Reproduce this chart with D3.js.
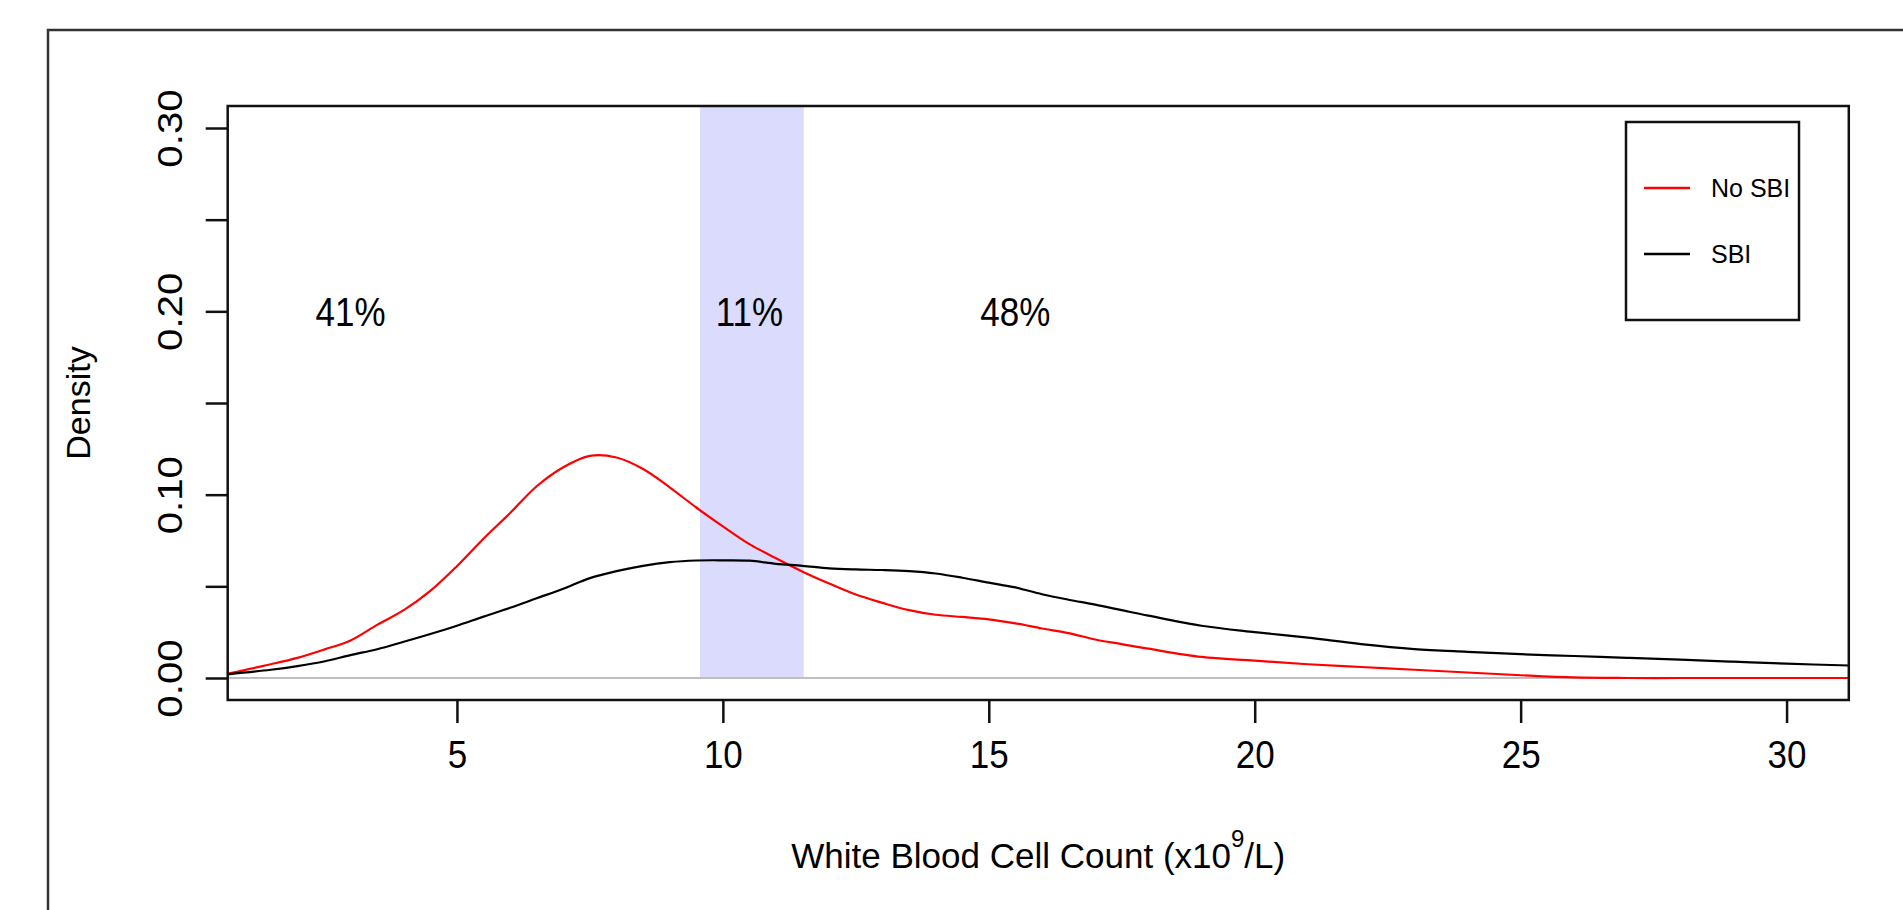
<!DOCTYPE html>
<html>
<head>
<meta charset="utf-8">
<script src="https://cdn.jsdelivr.net/npm/d3@7"></script>
<style>
  body { margin: 0; background: #fff; }
  svg { display: block; }
  text { font-family: "Liberation Sans", Arial, sans-serif; fill: #000; }
</style>
</head>
<body>
<svg id="chart" width="1903" height="910"></svg>
<script>
// white blood cell count grid (x10^9/L) and the two density curves
var wbcGrid = [0.69, 1.5, 2, 2.5, 3, 3.5, 4, 4.5, 5, 5.5, 6, 6.5, 7, 7.5, 8, 8.5, 9, 9.5, 10, 10.5,
  11, 11.5, 12, 12.5, 13, 13.5, 14, 14.5, 15, 15.5, 16, 16.5, 17, 17.5, 18, 19, 20, 21, 22, 23,
  24, 25, 26, 27, 28, 29, 30, 31.2];
var noSbiDensity = [0.0024, 0.0075, 0.011, 0.0155, 0.0205, 0.029, 0.037, 0.0475, 0.061, 0.076,
  0.090, 0.1046, 0.115, 0.1212, 0.1203, 0.114, 0.104, 0.093, 0.0827, 0.073,
  0.0653, 0.058, 0.0515, 0.0455, 0.041, 0.037, 0.0345, 0.0333, 0.032, 0.0298, 0.027, 0.0245, 0.021, 0.0185, 0.016, 0.0115, 0.0095, 0.0075, 0.006, 0.0045,
  0.003, 0.0015, 0.0003, 0, 0, 0, 0, 0];
var sbiDensity = [0.002, 0.0045, 0.0065, 0.009, 0.0125, 0.0157, 0.0198, 0.024, 0.0285, 0.0335,
  0.0383, 0.0435, 0.0487, 0.0545, 0.0583, 0.0612, 0.0632, 0.0641, 0.0642, 0.064,
  0.0623, 0.0612, 0.0598, 0.0592, 0.0589, 0.0583, 0.057, 0.0547, 0.052, 0.0494, 0.0457, 0.0427, 0.040, 0.037, 0.034, 0.0285, 0.025, 0.022, 0.0185, 0.0158,
  0.0143, 0.013, 0.012, 0.011, 0.010, 0.0089, 0.0078, 0.0068];

var seriesNames = ["No SBI", "SBI"];
var seriesColors = ["#ff0000", "#000000"];

// shaded band and percentage labels
var bandRange = [9.57, 11.52];
var pctLabels = ["41%", "11%", "48%"];
var pctX = [3, 10.5, 15.5];
var pctY = 0.2;

var xTicks = [5, 10, 15, 20, 25, 30];
var yTicks = [0, 0.05, 0.10, 0.15, 0.20, 0.25, 0.30];
var yLabelled = [0, 0.10, 0.20, 0.30];

var svg = d3.select("#chart");
var pLeft = 227.7, pRight = 1848.8, pTop = 106, pBottom = 700;

var x = d3.scaleLinear().domain([0.69, 31.17]).range([pLeft, pRight]);
var y = d3.scaleLinear().domain([-0.012, 0.312]).range([pBottom, pTop]);

// outer frame (runs off the right and bottom of the picture)
svg.append("rect")
  .attr("x", 48).attr("y", 30).attr("width", 2000).attr("height", 1000)
  .attr("fill", "none").attr("stroke", "#333").attr("stroke-width", 2.5);

svg.append("clipPath").attr("id", "plotclip")
  .append("rect").attr("x", pLeft).attr("y", pTop)
  .attr("width", pRight - pLeft).attr("height", pBottom - pTop);

var plot = svg.append("g").attr("clip-path", "url(#plotclip)");

plot.append("rect")
  .attr("x", x(bandRange[0])).attr("width", x(bandRange[1]) - x(bandRange[0]))
  .attr("y", y(0.312)).attr("height", y(0) - y(0.312))
  .attr("fill", "#dbdbfe");

plot.append("line")
  .attr("x1", pLeft).attr("x2", pRight).attr("y1", y(0)).attr("y2", y(0))
  .attr("stroke", "#bebebe").attr("stroke-width", 2);

var line = d3.line()
  .x(function (d) { return x(d[0]); })
  .y(function (d) { return y(Math.max(0, d[1])); })
  .curve(d3.curveCatmullRom.alpha(0.5));

[noSbiDensity, sbiDensity].forEach(function (vals, i) {
  var pts = wbcGrid.map(function (g, j) { return [g, vals[j]]; });
  plot.append("path").datum(pts)
    .attr("d", line)
    .attr("fill", "none")
    .attr("stroke", seriesColors[i])
    .attr("stroke-width", 2.2);
});

// percentage text, a bit taller than wide like the original
pctLabels.forEach(function (t, i) {
  svg.append("text")
    .attr("transform", "translate(" + x(pctX[i]) + "," + y(pctY) + ") scale(1,1.15)")
    .attr("text-anchor", "middle")
    .attr("dy", "0.36em")
    .style("font-size", "35px")
    .text(t);
});

// plot box
svg.append("rect")
  .attr("x", pLeft).attr("y", pTop).attr("width", pRight - pLeft).attr("height", pBottom - pTop)
  .attr("fill", "none").attr("stroke", "#111").attr("stroke-width", 2.5);

// axes
var xAxis = svg.append("g")
  .attr("transform", "translate(0," + pBottom + ")")
  .call(d3.axisBottom(x).tickValues(xTicks).tickSize(23).tickPadding(14).tickFormat(d3.format("d")));
xAxis.select(".domain").remove();
xAxis.selectAll("line").attr("stroke", "#111").attr("stroke-width", 2.5);
xAxis.selectAll("text")
  .attr("transform", "scale(1,1.1)")
  .style("font-size", "35px").attr("fill", "#000")
  .style("font-family", "'Liberation Sans', Arial, sans-serif");

var yAxis = svg.append("g")
  .attr("transform", "translate(" + pLeft + ",0)")
  .call(d3.axisLeft(y).tickValues(yTicks).tickSize(22)
    .tickFormat(function (d) {
      return yLabelled.some(function (v) { return Math.abs(v - d) < 1e-9; }) ? d3.format(".2f")(d) : "";
    }));
yAxis.select(".domain").remove();
yAxis.selectAll("line").attr("stroke", "#111").attr("stroke-width", 2.5);
yAxis.selectAll("text")
  .attr("transform", "rotate(-90) scale(1.15,1)")
  .attr("x", 0).attr("y", -46).attr("dy", 0)
  .attr("text-anchor", "middle")
  .style("font-size", "35px").attr("fill", "#000")
  .style("font-family", "'Liberation Sans', Arial, sans-serif");

// axis titles
var xTitle = svg.append("text")
  .attr("x", (pLeft + pRight) / 2).attr("y", 868)
  .attr("text-anchor", "middle")
  .style("font-size", "35px");
xTitle.append("tspan").text("White Blood Cell Count (x10");
xTitle.append("tspan").attr("dy", -21).style("font-size", "24px").text("9");
xTitle.append("tspan").attr("dy", 21).text("/L)");

svg.append("text")
  .attr("transform", "translate(90," + (pTop + pBottom) / 2 + ") rotate(-90)")
  .attr("text-anchor", "middle")
  .style("font-size", "34px")
  .text("Density");

// legend
var legend = svg.append("g");
legend.append("rect")
  .attr("x", 1626).attr("y", 122).attr("width", 173).attr("height", 198)
  .attr("fill", "#fff").attr("stroke", "#111").attr("stroke-width", 2.5);
seriesNames.forEach(function (name, i) {
  var ly = 188 + i * 66;
  legend.append("line")
    .attr("x1", 1644).attr("x2", 1690).attr("y1", ly).attr("y2", ly)
    .attr("stroke", seriesColors[i]).attr("stroke-width", 2.5);
  legend.append("text")
    .attr("x", 1711).attr("y", ly).attr("dy", "0.36em")
    .style("font-size", "25px")
    .text(name);
});
</script>
</body>
</html>
